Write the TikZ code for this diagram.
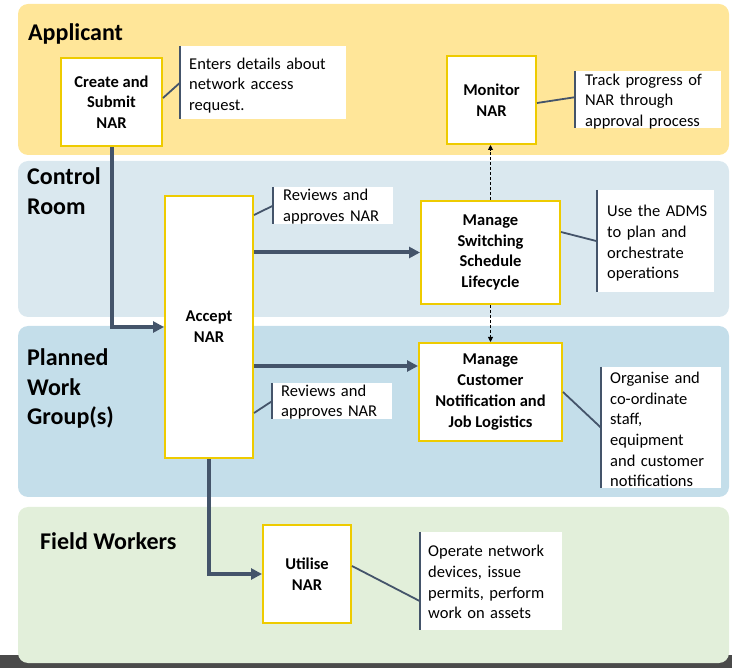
\documentclass[tikz,border=0pt]{standalone}
\usepackage{fontspec}
\setmainfont{Carlito}
\usetikzlibrary{arrows.meta,calc}
\definecolor{laneA}{HTML}{FFE699}
\definecolor{laneB}{HTML}{DAE8EF}
\definecolor{laneC}{HTML}{C4DEEA}
\definecolor{laneD}{HTML}{E2EFDA}
\definecolor{boxyellow}{HTML}{EECB00}
\definecolor{flowc}{HTML}{44546A}
\definecolor{barc}{HTML}{4A4A4A}
\begin{document}
\begin{tikzpicture}[x=1pt,y=-1pt,
  lane/.style={rounded corners=10pt},
  title/.style={font=\fontsize{24}{29.5}\selectfont\bfseries, inner sep=0pt, align=left},
  proc/.style={draw=boxyellow, line width=2pt, fill=white, align=center,
    font=\fontsize{16.5}{20.7}\selectfont\bfseries, inner sep=0pt},
  note/.style={fill=white, anchor=north west, align=left,
    font=\fontsize{16.5}{20.7}\selectfont, inner ysep=0pt},
  noteline/.style={draw=flowc, line width=2pt},
  link/.style={draw=flowc, line width=1.8pt},
  flow/.style={draw=flowc, line width=4pt, -{Triangle[length=11pt,width=11pt]}},
  dflow/.style={draw=black, line width=0.9pt, dash pattern=on 3pt off 2pt,
    -{Triangle[length=5pt,width=5pt]}}]
\useasboundingbox (0,0) rectangle (732,668);
\fill[barc] (0,655) rectangle (732,668);
% lanes
\fill[laneA, lane] (18,4) rectangle (729,155);
\fill[laneB, lane] (18,161) rectangle (729,317);
\fill[laneC, lane] (18,326) rectangle (729,497);
\fill[laneD, lane] (18,507) rectangle (729,663);
% lane titles
\node[title, anchor=base west] (tA) at (28,40.5) {Applicant};
\node[title, anchor=north west] (tB) at (27,167.5) {Control\\Room};
\node[title, anchor=north west] (tC) at (27,348.5) {Planned\\Work\\Group(s)};
\node[title, anchor=base west] (tD) at (40,549.5) {Field Workers};
% process boxes
\node[proc, minimum width=101pt, minimum height=88pt] (create) at (111.5,102) {Create and\\Submit\\NAR};
\node[proc, minimum width=89pt, minimum height=88pt] (monitor) at (491.5,100) {Monitor\\NAR};
\node[proc, minimum width=139pt, minimum height=103pt] (switch) at (490.5,252.5) {Manage\\Switching\\Schedule\\Lifecycle};
\node[proc, minimum width=143pt, minimum height=98pt] (customer) at (490.5,392) {Manage\\Customer\\Notification and\\Job Logistics};
\node[proc, minimum width=88pt, minimum height=262pt] (accept) at (209,327) {Accept\\NAR};
\node[proc, minimum width=88pt, minimum height=98pt] (utilise) at (307,574) {Utilise\\NAR};
% notes (text height = first baseline below top; text height + depth = box height)
\node[note, inner xsep=9pt, text width=148pt, text height=23pt, text depth=50pt] (nEnter) at (180,46) {Enters details about\\network access\\request.};
\node[note, inner xsep=10pt, text width=126pt, text height=14pt, text depth=43pt] (nTrack) at (575,71) {Track progress of\\NAR through\\approval process};
\node[note, inner xsep=10pt, text width=100pt, text height=13.5pt, text depth=23.5pt] (nRev1) at (273,187) {Reviews and\\approves NAR};
\node[note, inner xsep=9pt, text width=102pt, text height=13pt, text depth=23pt] (nRev2) at (272,383) {Reviews and\\approves NAR};
\node[note, inner xsep=10pt, text width=97pt, text height=26.7pt, text depth=75.3pt] (nAdms) at (597,190) {Use~the~ADMS\\to plan and\\orchestrate\\operations};
\node[note, inner xsep=9pt, text width=102pt, text height=16.3pt, text depth=104.7pt] (nOrg) at (601,367) {Organise and\\co-ordinate\\staff,\\equipment\\and customer\\notifications};
\node[note, inner xsep=8pt, text width=126pt, text height=24.7pt, text depth=73.3pt] (nOp) at (420,532) {Operate network\\devices, issue\\permits, perform\\work on assets};
% note side bars
\foreach \n in {nEnter,nTrack,nRev1,nRev2,nAdms,nOrg,nOp}
  \draw[noteline] (\n.north west) -- (\n.south west);
% note connectors
\draw[link] ([yshift=4pt]create.east) -- (nEnter.west);
\draw[link] ([yshift=-3pt]monitor.east) -- ([yshift=2.5pt]nTrack.west);
\draw[link] ([yshift=-20pt]accept.north east) -- (nRev1.west);
\draw[link] ([yshift=46pt]accept.south east) -- (nRev2.west);
\draw[link] ([yshift=20.5pt]switch.east) -- (nAdms.west);
\draw[link] (customer.east) -- (nOrg.west);
\draw[link] ([yshift=8pt]utilise.east) -- ([yshift=-20pt]nOp.west);
% main flows
\draw[flow] (create.south) |- (accept.west);
\draw[flow] (accept.east |- switch.west) -- (switch.west);
\coordinate (custin) at ([yshift=26pt]customer.west);
\draw[flow] (accept.east |- custin) -- (custin);
\draw[flow] (accept.south) |- (utilise.west);
% dashed flows
\draw[dflow] (switch.north) -- (switch.north |- monitor.south);
\draw[dflow] (switch.south) -- (switch.south |- customer.north);
\end{tikzpicture}
\end{document}
